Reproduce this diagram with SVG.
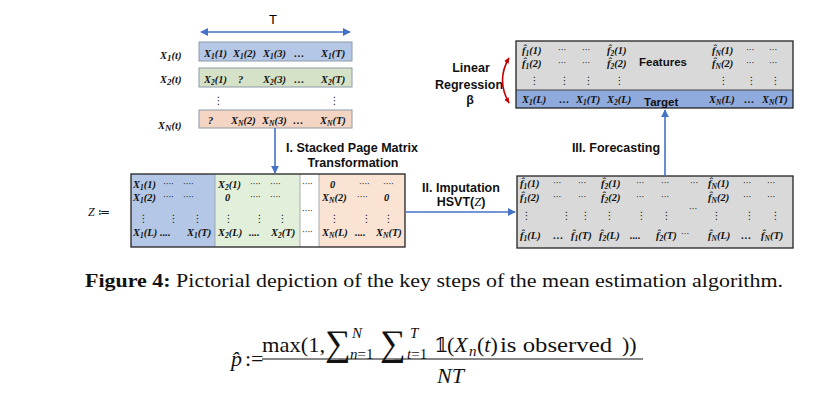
<svg xmlns="http://www.w3.org/2000/svg" width="815" height="398" viewBox="0 0 815 398">
<style>
.m{font-family:"Liberation Serif",serif;font-weight:bold;font-style:italic;font-size:10.5px;fill:#111}
.sb{font-size:7.5px}
.dt{font-family:"DejaVu Sans",sans-serif;font-size:8.5px;fill:#222}
.vd{font-family:"DejaVu Sans",sans-serif;font-size:10.5px;fill:#222}
.lbl{font-family:"Liberation Sans",Arial,sans-serif;font-weight:bold;font-size:12.5px;fill:#111}
.bl{font-family:"Liberation Sans",Arial,sans-serif;font-weight:bold;font-size:11.5px;fill:#111}
.row{stroke:#8e9aa8;stroke-width:1}
.conn{stroke:#4472c4;stroke-width:1.6;fill:none}
.tex{font-family:"Liberation Serif",serif;fill:#111}
</style>
<defs>
<marker id="ah" viewBox="0 0 10 10" refX="9" refY="5" markerWidth="5" markerHeight="5" orient="auto-start-reverse"><path d="M0,0 L10,5 L0,10 z" fill="#4472c4"/></marker>
<marker id="rh" viewBox="0 0 10 10" refX="8" refY="5" markerWidth="4" markerHeight="4" orient="auto-start-reverse"><path d="M0,1 L9,5 L0,9 z" fill="#c00000"/></marker>
</defs>
<rect width="815" height="398" fill="#fff"/>

<g id="input-series">
<text x="273" y="24" font-family="Liberation Sans,Arial,sans-serif" font-size="13" text-anchor="middle">T</text>
<text class="m" x="160" y="59" font-size="12.5">X<tspan font-size="9" dy="2">1</tspan><tspan dy="-2">(t)</tspan></text>
<text class="m" x="160" y="83" font-size="12.5">X<tspan font-size="9" dy="2">2</tspan><tspan dy="-2">(t)</tspan></text>
<text class="m" x="158" y="129" font-size="12.5">X<tspan font-size="9" dy="2">N</tspan><tspan dy="-2">(t)</tspan></text>
<rect class="row" x="199" y="42" width="153" height="19" fill="#b4c7e7"/>
<rect class="row" x="199" y="68" width="153" height="19" fill="#d5e2c8"/>
<rect class="row" x="199" y="110" width="153" height="18" fill="#f4d5c4"/>
<text class="m" y="57"><tspan x="204">X</tspan><tspan class="sb" dy="2">1</tspan><tspan dy="-2">(1)</tspan><tspan x="233">X</tspan><tspan class="sb" dy="2">1</tspan><tspan dy="-2">(2)</tspan><tspan x="263">X</tspan><tspan class="sb" dy="2">1</tspan><tspan dy="-2">(3)</tspan><tspan x="294">…</tspan><tspan x="321">X</tspan><tspan class="sb" dy="2">1</tspan><tspan dy="-2">(T)</tspan></text>
<text class="m" y="83"><tspan x="204">X</tspan><tspan class="sb" dy="2">2</tspan><tspan dy="-2">(1)</tspan><tspan x="238">?</tspan><tspan x="263">X</tspan><tspan class="sb" dy="2">2</tspan><tspan dy="-2">(3)</tspan><tspan x="294">…</tspan><tspan x="321">X</tspan><tspan class="sb" dy="2">2</tspan><tspan dy="-2">(T)</tspan></text>
<text class="vd" x="213" y="104">⋮</text>
<text class="vd" x="329" y="104">⋮</text>
<text class="m" y="124"><tspan x="208">?</tspan><tspan x="231">X</tspan><tspan class="sb" dy="2">N</tspan><tspan dy="-2">(2)</tspan><tspan x="262">X</tspan><tspan class="sb" dy="2">N</tspan><tspan dy="-2">(3)</tspan><tspan x="293">…</tspan><tspan x="320">X</tspan><tspan class="sb" dy="2">N</tspan><tspan dy="-2">(T)</tspan></text>
</g>

<g id="z-matrix">
<text x="88" y="216" font-family="Liberation Serif,serif" font-size="12" fill="#111"><tspan font-style="italic">Z</tspan> ≔</text>
<rect x="131" y="174" width="84" height="73" fill="#b4c7e7"/>
<rect x="215" y="174" width="85" height="73" fill="#e2efda"/>
<rect x="300" y="174" width="19" height="73" fill="#ffffff"/>
<rect x="319" y="174" width="86" height="73" fill="#fbe3d4"/>
<line x1="215" y1="174" x2="215" y2="247" stroke="#999" stroke-width="0.8"/>
<line x1="300" y1="174" x2="300" y2="247" stroke="#999" stroke-width="0.8"/>
<line x1="319" y1="174" x2="319" y2="247" stroke="#999" stroke-width="0.8"/>
<rect x="131" y="174" width="274" height="73" fill="none" stroke="#222" stroke-width="1.3"/>
<text class="m" y="188"><tspan x="133">X</tspan><tspan class="sb" dy="2">1</tspan><tspan dy="-2">(1)</tspan><tspan x="218">X</tspan><tspan class="sb" dy="2">2</tspan><tspan dy="-2">(1)</tspan><tspan x="330">0</tspan></text>
<text class="dt" y="187"><tspan x="163">····</tspan><tspan x="183">····</tspan><tspan x="250">····</tspan><tspan x="270">····</tspan><tspan x="302">····</tspan><tspan x="359">····</tspan><tspan x="383">····</tspan></text>
<text class="m" y="201"><tspan x="133">X</tspan><tspan class="sb" dy="2">1</tspan><tspan dy="-2">(2)</tspan><tspan x="225">0</tspan><tspan x="322">X</tspan><tspan class="sb" dy="2">N</tspan><tspan dy="-2">(2)</tspan><tspan x="384">0</tspan></text>
<text class="dt" y="200"><tspan x="163">····</tspan><tspan x="183">····</tspan><tspan x="250">····</tspan><tspan x="270">····</tspan><tspan x="357">····</tspan></text>
<text class="vd" y="222"><tspan x="138">⋮</tspan><tspan x="168">⋮</tspan><tspan x="192">⋮</tspan><tspan x="223">⋮</tspan><tspan x="254">⋮</tspan><tspan x="277">⋮</tspan><tspan x="329">⋮</tspan><tspan x="361">⋮</tspan><tspan x="383">⋮</tspan></text>
<text class="dt" x="302" y="214">····</text>
<text class="m" y="236"><tspan x="133">X</tspan><tspan class="sb" dy="2">1</tspan><tspan dy="-2">(L)</tspan><tspan x="160">....</tspan><tspan x="187">X</tspan><tspan class="sb" dy="2">1</tspan><tspan dy="-2">(T)</tspan><tspan x="218">X</tspan><tspan class="sb" dy="2">2</tspan><tspan dy="-2">(L)</tspan><tspan x="249">....</tspan><tspan x="271">X</tspan><tspan class="sb" dy="2">2</tspan><tspan dy="-2">(T)</tspan><tspan x="322">X</tspan><tspan class="sb" dy="2">N</tspan><tspan dy="-2">(L)</tspan><tspan x="355">....</tspan><tspan x="376">X</tspan><tspan class="sb" dy="2">N</tspan><tspan dy="-2">(T)</tspan></text>
<text class="dt" x="302" y="235">····</text>
</g>

<g id="imputed-matrix">
<rect x="517" y="176" width="276" height="72" fill="#d9d9d9" stroke="#222" stroke-width="1.3"/>
<text class="m" y="187"><tspan x="520">f̂</tspan><tspan class="sb" dy="2">1</tspan><tspan dy="-2">(1)</tspan><tspan x="601">f̂</tspan><tspan class="sb" dy="2">2</tspan><tspan dy="-2">(1)</tspan><tspan x="708">f̂</tspan><tspan class="sb" dy="2">N</tspan><tspan dy="-2">(1)</tspan></text>
<text class="dt" y="186"><tspan x="553">···</tspan><tspan x="578">···</tspan><tspan x="636">···</tspan><tspan x="661">···</tspan><tspan x="690">···</tspan><tspan x="743">···</tspan><tspan x="767">···</tspan></text>
<text class="m" y="201"><tspan x="520">f̂</tspan><tspan class="sb" dy="2">1</tspan><tspan dy="-2">(2)</tspan><tspan x="601">f̂</tspan><tspan class="sb" dy="2">2</tspan><tspan dy="-2">(2)</tspan><tspan x="708">f̂</tspan><tspan class="sb" dy="2">N</tspan><tspan dy="-2">(2)</tspan></text>
<text class="dt" y="200"><tspan x="553">···</tspan><tspan x="578">···</tspan><tspan x="636">···</tspan><tspan x="661">···</tspan><tspan x="743">···</tspan><tspan x="767">···</tspan></text>
<text class="vd" y="219"><tspan x="521">⋮</tspan><tspan x="561">⋮</tspan><tspan x="580">⋮</tspan><tspan x="604">⋮</tspan><tspan x="636">⋮</tspan><tspan x="661">⋮</tspan><tspan x="711">⋮</tspan><tspan x="744">⋮</tspan><tspan x="770">⋮</tspan></text>
<text class="dt" x="689" y="212">···</text>
<text class="m" y="239"><tspan x="520">f̂</tspan><tspan class="sb" dy="2">1</tspan><tspan dy="-2">(L)</tspan><tspan x="553">…</tspan><tspan x="571">f̂</tspan><tspan class="sb" dy="2">1</tspan><tspan dy="-2">(T)</tspan><tspan x="599">f̂</tspan><tspan class="sb" dy="2">2</tspan><tspan dy="-2">(L)</tspan><tspan x="630">....</tspan><tspan x="656">f̂</tspan><tspan class="sb" dy="2">2</tspan><tspan dy="-2">(T)</tspan><tspan x="708">f̂</tspan><tspan class="sb" dy="2">N</tspan><tspan dy="-2">(L)</tspan><tspan x="741">…</tspan><tspan x="761">f̂</tspan><tspan class="sb" dy="2">N</tspan><tspan dy="-2">(T)</tspan></text>
<text class="dt" x="681" y="237">···</text>
</g>

<g id="regression-matrix">
<rect x="516" y="41" width="277" height="49" fill="#d9d9d9"/>
<rect x="516" y="90" width="277" height="18" fill="#8faadc"/>
<line x1="516" y1="90" x2="793" y2="90" stroke="#444" stroke-width="1"/>
<rect x="516" y="41" width="277" height="67" fill="none" stroke="#222" stroke-width="1.3"/>
<text class="m" y="54"><tspan x="522">f̂</tspan><tspan class="sb" dy="2">1</tspan><tspan dy="-2">(1)</tspan><tspan x="607">f̂</tspan><tspan class="sb" dy="2">2</tspan><tspan dy="-2">(1)</tspan><tspan x="712">f̂</tspan><tspan class="sb" dy="2">N</tspan><tspan dy="-2">(1)</tspan></text>
<text class="dt" y="53"><tspan x="558">···</tspan><tspan x="582">···</tspan><tspan x="746">···</tspan><tspan x="769">···</tspan></text>
<text class="m" y="67"><tspan x="522">f̂</tspan><tspan class="sb" dy="2">1</tspan><tspan dy="-2">(2)</tspan><tspan x="607">f̂</tspan><tspan class="sb" dy="2">2</tspan><tspan dy="-2">(2)</tspan><tspan x="712">f̂</tspan><tspan class="sb" dy="2">N</tspan><tspan dy="-2">(2)</tspan></text>
<text class="dt" y="66"><tspan x="558">···</tspan><tspan x="582">···</tspan><tspan x="746">···</tspan><tspan x="769">···</tspan></text>
<text class="bl" x="639" y="66">Features</text>
<text class="vd" y="84"><tspan x="529">⋮</tspan><tspan x="559">⋮</tspan><tspan x="583">⋮</tspan><tspan x="614">⋮</tspan><tspan x="718">⋮</tspan><tspan x="746">⋮</tspan><tspan x="770">⋮</tspan></text>
<text class="m" y="103"><tspan x="522">X</tspan><tspan class="sb" dy="2">1</tspan><tspan dy="-2">(L)</tspan><tspan x="559">…</tspan><tspan x="576">X</tspan><tspan class="sb" dy="2">1</tspan><tspan dy="-2">(T)</tspan><tspan x="607">X</tspan><tspan class="sb" dy="2">2</tspan><tspan dy="-2">(L)</tspan><tspan x="709">X</tspan><tspan class="sb" dy="2">N</tspan><tspan dy="-2">(L)</tspan><tspan x="744">…</tspan><tspan x="762">X</tspan><tspan class="sb" dy="2">N</tspan><tspan dy="-2">(T)</tspan></text>
<text class="bl" x="644" y="106">Target</text>
</g>

<g id="linear-regression">
<text class="lbl" x="471" y="72" text-anchor="middle">Linear</text>
<text class="lbl" x="469" y="89" text-anchor="middle">Regression</text>
<text class="lbl" x="470" y="104" text-anchor="middle">β</text>
<path d="M509,58 Q496,80 509,103" fill="none" stroke="#c00000" stroke-width="1.6" marker-start="url(#rh)" marker-end="url(#rh)"/>
</g>

<g id="step-labels">
<text class="lbl" x="352" y="152" text-anchor="middle">I. Stacked Page Matrix</text>
<text class="lbl" x="353" y="167" text-anchor="middle">Transformation</text>
<text class="lbl" x="461" y="192" text-anchor="middle">II. Imputation</text>
<text class="lbl" x="461" y="206" text-anchor="middle">HSVT(<tspan font-family="Liberation Serif,serif" font-style="italic" font-weight="normal">Z</tspan>)</text>
<text class="lbl" x="616" y="152" text-anchor="middle">III. Forecasting</text>
</g>

<g id="connectors">
<line class="conn" x1="201" y1="32" x2="350" y2="32" marker-start="url(#ah)" marker-end="url(#ah)"/>
<line class="conn" x1="275" y1="128" x2="275" y2="173" marker-end="url(#ah)"/>
<line class="conn" x1="405" y1="212" x2="515" y2="212" marker-end="url(#ah)"/>
<line class="conn" x1="665" y1="176" x2="665" y2="110" marker-end="url(#ah)"/>
</g>

<g id="caption">
<text class="tex" x="85" y="287" font-size="18" textLength="698" lengthAdjust="spacingAndGlyphs"><tspan font-weight="bold">Figure 4:</tspan> Pictorial depiction of the key steps of the mean estimation algorithm.</text>
</g>

<g id="formula" class="tex">
<text x="231" y="366" font-size="22" font-style="italic">p̂</text>
<text x="245" y="366" font-size="22">:=</text>
<line x1="262" y1="359" x2="643" y2="359" stroke="#111" stroke-width="1"/>
<text x="262" y="352" font-size="22" textLength="63" lengthAdjust="spacingAndGlyphs">max(1,</text>
<text x="325" y="355" font-size="36">∑</text>
<text x="352" y="338" font-size="15" font-style="italic">N</text>
<text x="350" y="359" font-size="15"><tspan font-style="italic">n</tspan>=1</text>
<text x="380" y="355" font-size="36">∑</text>
<text x="410" y="338" font-size="15" font-style="italic">T</text>
<text x="407" y="359" font-size="15"><tspan font-style="italic">t</tspan>=1</text>
<text x="434" y="352" font-size="21" font-family="DejaVu Serif,serif">𝟙</text>
<text x="447" y="352" font-size="22">(<tspan font-style="italic">X</tspan></text>
<text x="469" y="356" font-size="15" font-style="italic">n</text>
<text x="477" y="352" font-size="22">(<tspan font-style="italic">t</tspan>)</text>
<text x="500" y="352" font-size="22" textLength="112" lengthAdjust="spacingAndGlyphs">is observed</text>
<text x="622" y="352" font-size="22">))</text>
<text x="437" y="383" font-size="22" font-style="italic">NT</text>
</g>
</svg>
